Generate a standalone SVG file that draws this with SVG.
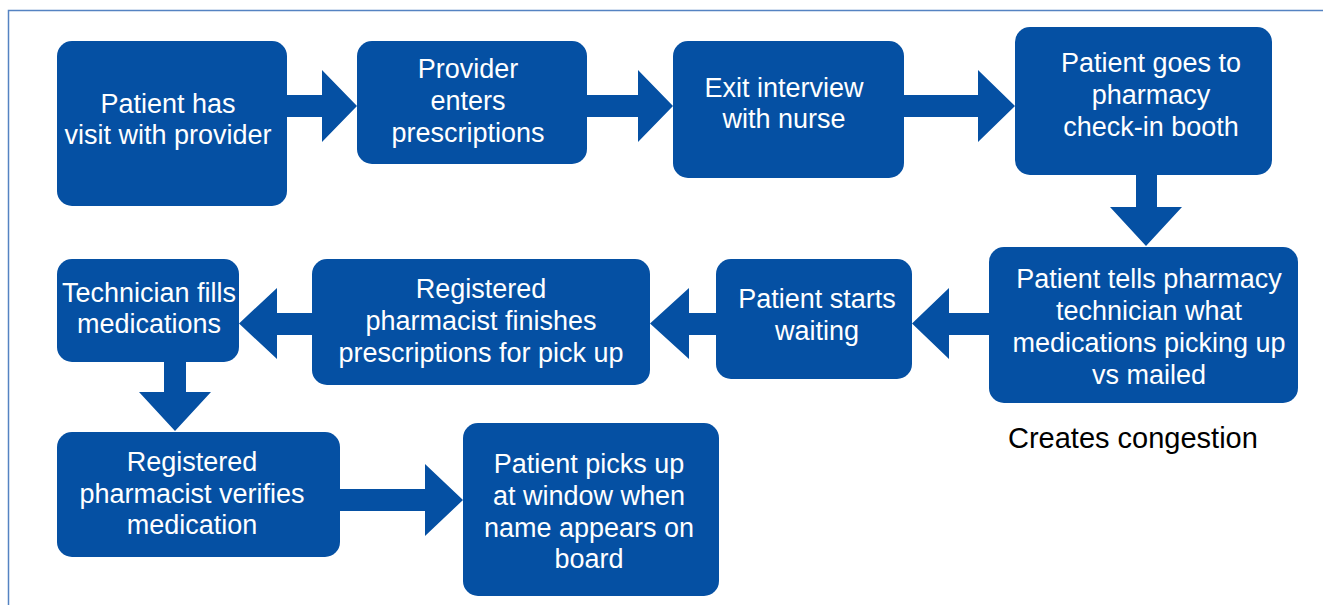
<svg xmlns="http://www.w3.org/2000/svg" width="1323" height="605" viewBox="0 0 1323 605">
  <style>
    .box { fill: #0550A3; }
    .arrow { fill: #0550A3; }
    .label { fill: #FFFFFF; font-family: "Liberation Sans", Arial, Helvetica, sans-serif; font-size: 27px; text-anchor: middle; }
    .note { fill: #000000; font-family: "Liberation Sans", Arial, Helvetica, sans-serif; font-size: 29px; }
    .frame { fill: none; stroke: #5583C2; stroke-width: 1.5; }
  </style>

  <rect width="1323" height="605" fill="#FFFFFF"/>
  <!-- outer frame -->
  <rect class="frame" x="8.5" y="10.5" width="1330" height="620"/>

  <!-- flow arrows -->
  <g id="connectors">
    <polygon class="arrow" points="286,95 322,95 322,70 357,106 322,142 322,117 286,117"/>
    <polygon class="arrow" points="586,95 638,95 638,70 673,106 638,142 638,117 586,117"/>
    <polygon class="arrow" points="903,95 978,95 978,70 1015,106 978,142 978,117 903,117"/>
    <polygon class="arrow" points="1136,174 1157,174 1157,207 1182,207 1146,246 1110,207 1136,207"/>
    <polygon class="arrow" points="990,313 949,313 949,288 912,323.5 949,359 949,335 990,335"/>
    <polygon class="arrow" points="717,313 689,313 689,288 650,323.5 689,359 689,335 717,335"/>
    <polygon class="arrow" points="313,313 277,313 277,288 239,323.5 277,359 277,335 313,335"/>
    <polygon class="arrow" points="164,361 186,361 186,392 211,392 175,431 139,392 164,392"/>
    <polygon class="arrow" points="339,489 425,489 425,464 463,500 425,536 425,511 339,511"/>
  </g>

  <g id="visit">
    <rect class="box" x="57" y="41" width="230" height="165" rx="15"/>
    <text class="label" x="168" y="113">Patient has</text>
    <text class="label" x="168" y="144">visit with provider</text>
  </g>

  <g id="enter-rx">
    <rect class="box" x="357" y="41" width="230" height="123" rx="15"/>
    <text class="label" x="468" y="78">Provider</text>
    <text class="label" x="468" y="110">enters</text>
    <text class="label" x="468" y="142">prescriptions</text>
  </g>

  <g id="exit-interview">
    <rect class="box" x="673" y="41" width="231" height="137" rx="15"/>
    <text class="label" x="784" y="97">Exit interview</text>
    <text class="label" x="784" y="128">with nurse</text>
  </g>

  <g id="check-in">
    <rect class="box" x="1015" y="27" width="257" height="148" rx="15"/>
    <text class="label" x="1151" y="72">Patient goes to</text>
    <text class="label" x="1151" y="104">pharmacy</text>
    <text class="label" x="1151" y="136">check-in booth</text>
  </g>

  <g id="tell-technician">
    <rect class="box" x="989" y="247" width="309" height="156" rx="15"/>
    <text class="label" x="1149" y="288">Patient tells pharmacy</text>
    <text class="label" x="1149" y="320">technician what</text>
    <text class="label" x="1149" y="352">medications picking up</text>
    <text class="label" x="1149" y="384">vs mailed</text>
  </g>

  <g id="start-waiting">
    <rect class="box" x="716" y="259" width="196" height="120" rx="15"/>
    <text class="label" x="817" y="308">Patient starts</text>
    <text class="label" x="817" y="340">waiting</text>
  </g>

  <g id="finish-rx">
    <rect class="box" x="312" y="259" width="338" height="126" rx="15"/>
    <text class="label" x="481" y="298">Registered</text>
    <text class="label" x="481" y="330">pharmacist finishes</text>
    <text class="label" x="481" y="362">prescriptions for pick up</text>
  </g>

  <g id="fill-meds">
    <rect class="box" x="57" y="259" width="182" height="103" rx="15"/>
    <text class="label" x="149" y="302">Technician fills</text>
    <text class="label" x="149" y="333">medications</text>
  </g>

  <g id="verify">
    <rect class="box" x="57" y="432" width="283" height="125" rx="15"/>
    <text class="label" x="192" y="471">Registered</text>
    <text class="label" x="192" y="503">pharmacist verifies</text>
    <text class="label" x="192" y="534">medication</text>
  </g>

  <g id="pick-up">
    <rect class="box" x="463" y="423" width="256" height="173" rx="15"/>
    <text class="label" x="589" y="473">Patient picks up</text>
    <text class="label" x="589" y="505">at window when</text>
    <text class="label" x="589" y="537">name appears on</text>
    <text class="label" x="589" y="568">board</text>
  </g>

  <g id="congestion-note">
    <text class="note" x="1008" y="448">Creates congestion</text>
  </g>
</svg>
